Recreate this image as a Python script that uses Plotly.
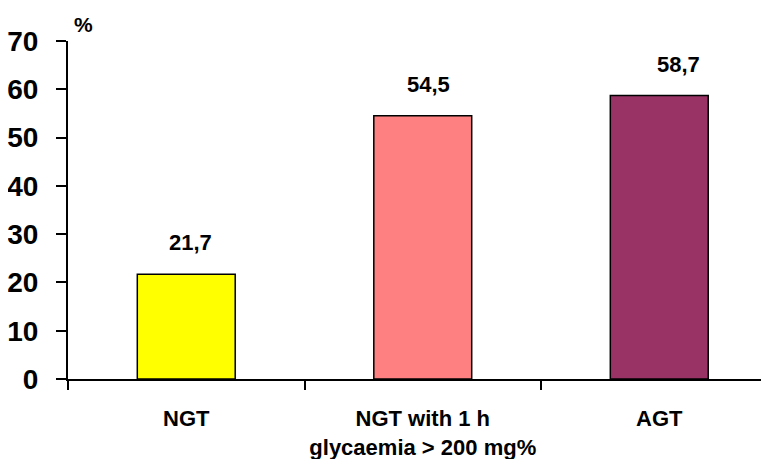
import plotly.graph_objects as go

categories = ["NGT", "NGT with 1 h<br>glycaemia > 200 mg%", "AGT"]
values = [21.7, 54.5, 58.7]
value_labels = ["21,7", "54,5", "58,7"]
bar_colors = ["#FFFF00", "#FF8080", "#993366"]
label_xshift = [4, 6, 19]
y_ticks = [0, 10, 20, 30, 40, 50, 60, 70]

FONT = "Liberation Sans, Arial, sans-serif"

# page body has an 8px default margin; compensate so the chart lands at the reference pixels
W, H = 761, 451
L, T, B, R = 60, 33, 80, 0
plot_w = W - L - R
plot_h = H - T - B

fig = go.Figure()
fig.add_trace(go.Bar(
    x=categories, y=values,
    marker=dict(color=bar_colors, line=dict(color="black", width=1.5)),
    width=0.414,
    hoverinfo="skip",
))

for c, v, t, dx in zip(categories, values, value_labels, label_xshift):
    fig.add_annotation(x=c, y=v, text=t, showarrow=False, yanchor="bottom",
                       yshift=17, xshift=dx,
                       font=dict(family=FONT, size=22, color="black", weight="bold"))

fig.add_annotation(xref="paper", yref="paper",
                   x=(83 - 8 - L) / plot_w, y=1 + (T - (25 - 8)) / plot_h,
                   xanchor="center", yanchor="middle",
                   text="%", showarrow=False,
                   font=dict(family=FONT, size=21, color="black", weight="bold"))

fig.update_layout(
    width=W, height=H,
    margin=dict(l=L, r=R, t=T, b=B, autoexpand=False),
    paper_bgcolor="white", plot_bgcolor="white",
    showlegend=False,
    xaxis=dict(
        type="category",
        range=[-0.5, 2.464],
        tickson="boundaries",
        tickangle=0,
        ticks="outside", ticklen=9, tickwidth=2, tickcolor="black",
        showline=True, linecolor="black", linewidth=2,
        showgrid=False, zeroline=False,
        tickfont=dict(family=FONT, size=22, color="black", weight="bold"),
        ticklabelstandoff=19,
    ),
    yaxis=dict(
        range=[0, 70],
        tickvals=y_ticks,
        ticks="outside", ticklen=10, tickwidth=2, tickcolor="black",
        showline=True, linecolor="black", linewidth=2,
        showgrid=False, zeroline=False,
        tickfont=dict(family=FONT, size=28, color="black", weight="bold"),
        ticklabelstandoff=12,
    ),
)

fig.write_html("out.html")
